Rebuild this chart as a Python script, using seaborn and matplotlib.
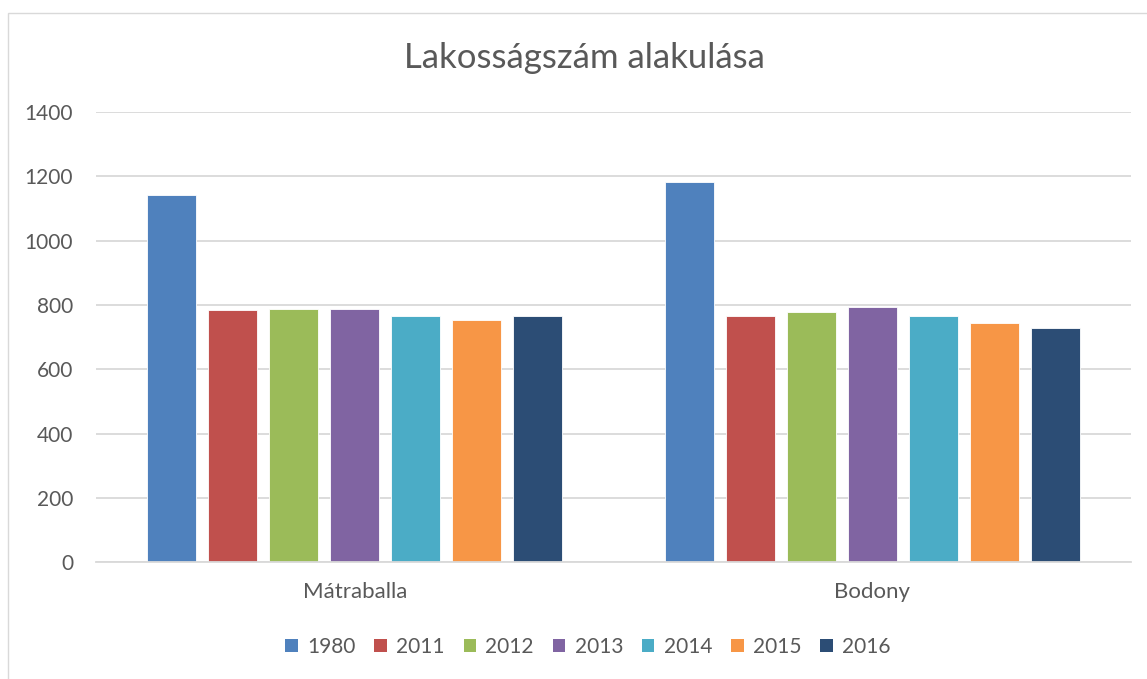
import matplotlib
matplotlib.use("Agg")
import matplotlib.pyplot as plt
import seaborn as sns
import pandas as pd
from matplotlib.patches import Rectangle

settlements = ["Mátraballa", "Bodony"]
years = ["1980", "2011", "2012", "2013", "2014", "2015", "2016"]
matraballa = [1141, 783, 786, 786, 765, 753, 765]
bodony = [1182, 765, 778, 793, 765, 743, 730]
colors = ["#4F81BD", "#C0504D", "#9BBB59", "#8064A2", "#4BACC6", "#F79646", "#2C4D75"]

rows = []
for name, vals in zip(settlements, [matraballa, bodony]):
    for y, v in zip(years, vals):
        rows.append({"Település": name, "Év": y, "Lakosság": v})
df = pd.DataFrame(rows)

sns.set_theme(style="white")
plt.rcParams["font.family"] = ["Lato", "DejaVu Sans"]

fig = plt.figure(figsize=(11.47, 6.79), dpi=100)
ax = fig.add_axes([96/1147, 1-562.3/679, (1131-96)/1147, (562.3-112)/679])

sns.barplot(data=df, x="Település", y="Lakosság", hue="Év", order=settlements,
            hue_order=years, palette=colors, saturation=1, width=0.825, gap=0.2,
            ax=ax, edgecolor="#FFFFFF", linewidth=0.6, legend=True, errorbar=None)

ax.set_ylim(0, 1400)
ax.set_xlim(-0.5, 1.5)
ax.set_yticks(range(0, 1401, 200))
ax.yaxis.grid(True, color="#D9D9D9", linewidth=1.3)
ax.set_axisbelow(True)
for s in ["top", "right", "left"]:
    ax.spines[s].set_visible(False)
ax.spines["bottom"].set_color("#D9D9D9")
ax.spines["bottom"].set_linewidth(1.3)
ax.tick_params(axis="both", length=0, colors="#595959")
ax.tick_params(axis="y", pad=16.5, labelsize=15)
ax.tick_params(axis="x", pad=14, labelsize=16)
ax.set_xlabel("")
ax.set_ylabel("")

ax.get_legend().remove()
handles, labels = ax.get_legend_handles_labels()
for h in handles:
    h.set_edgecolor("none")
leg = fig.legend(handles, labels, ncol=7, loc="center",
                 bbox_to_anchor=(588/1147, 1-647/679), frameon=False,
                 fontsize=15, handlelength=0.6, handleheight=0.6,
                 handletextpad=0.45, columnspacing=0.9)
for t in leg.get_texts():
    t.set_color("#595959")

fig.text(584/1147, 1-58/679, "Lakosságszám alakulása", ha="center", va="center",
         fontsize=25, color="#595959")

fig.patches.append(Rectangle((8/1147, -0.1), 1.2, 1-13/679+0.1, transform=fig.transFigure,
                             fill=False, edgecolor="#D9D9D9", linewidth=1.0))

fig.savefig("out.png", dpi=100)
